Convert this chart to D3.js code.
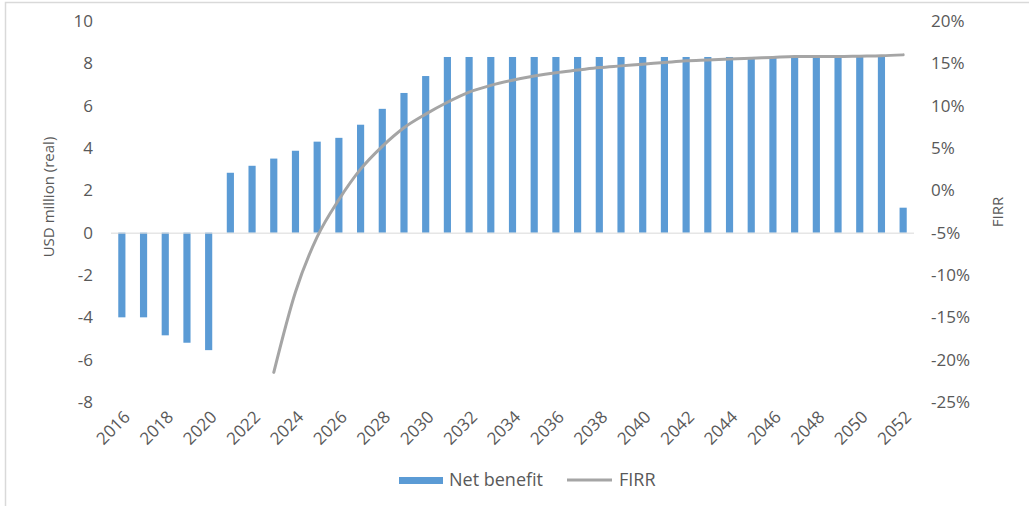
<!DOCTYPE html>
<html lang="en">
<head>
    <meta charset="UTF-8">
    <title>Net benefit and FIRR</title>
    <script src="https://d3js.org/d3.v7.min.js"></script>
    <style>
        body { margin: 0; background: #fff; overflow: hidden; font-family: "Open Sans", Arial, sans-serif; }
        .tick text { fill: #595959; font-size: 17px; font-family: "Open Sans", Arial, sans-serif; }
        .axis-title { fill: #595959; font-size: 15px; }
        .legend text { fill: #595959; font-size: 18px; }
    </style>
</head>
<body>
    <div id="chart"></div>
    <script>
        // data
        const years = d3.range(2016, 2053);
        const netBenefit = [-4.0, -4.0, -4.85, -5.2, -5.55, 2.83, 3.16, 3.5, 3.87, 4.3,
            4.48, 5.1, 5.85, 6.6, 7.4, 8.3, 8.3, 8.3, 8.3, 8.3,
            8.3, 8.3, 8.3, 8.3, 8.3, 8.3, 8.3, 8.3, 8.3, 8.3,
            8.3, 8.3, 8.3, 8.3, 8.3, 8.3, 1.18];
        const firrYears = d3.range(2023, 2053);
        const firr = [-0.215, -0.12, -0.055, -0.011, 0.025, 0.052, 0.074, 0.090, 0.104, 0.116,
            0.124, 0.130, 0.135, 0.139, 0.142, 0.145, 0.147, 0.149, 0.151, 0.153,
            0.154, 0.155, 0.156, 0.157, 0.158, 0.158, 0.158, 0.1585, 0.159, 0.160];
        const leftTicks = [-8, -6, -4, -2, 0, 2, 4, 6, 8, 10];
        const rightTicks = [-0.25, -0.2, -0.15, -0.1, -0.05, 0, 0.05, 0.1, 0.15, 0.2];
        const xTicks = years.filter(y => y % 2 === 0);

        const width = 1029, height = 506;
        const plot = { left: 111, right: 914, top: 21, bottom: 402 };

        const svg = d3.select("#chart").append("svg")
            .attr("width", width)
            .attr("height", height);

        // chart frame (left and top edges visible)
        svg.append("path")
            .attr("d", `M5.5,${height} V2.5 H${width}`)
            .attr("fill", "none")
            .attr("stroke", "#d9d9d9")
            .attr("stroke-width", 1.5);

        const x = d3.scaleBand().domain(years)
            .range([plot.left, plot.right])
            .paddingInner(0.67).paddingOuter(0.335);
        const y = d3.scaleLinear().domain([-8, 10]).range([plot.bottom, plot.top]);
        const y2 = d3.scaleLinear().domain([-0.25, 0.2]).range([plot.bottom, plot.top]);

        // plain hyphen minus like the original
        const fmtLeft = d => String(d);
        const fmtRight = d => Math.round(d * 100) + "%";

        // left axis
        svg.append("g")
            .attr("transform", `translate(${plot.left - 18},0)`)
            .call(d3.axisLeft(y).tickValues(leftTicks).tickSize(0).tickPadding(0).tickFormat(fmtLeft))
            .call(g => g.select(".domain").remove());

        // right axis
        svg.append("g")
            .attr("transform", `translate(${plot.right + 17},0)`)
            .call(d3.axisRight(y2).tickValues(rightTicks).tickSize(0).tickPadding(0).tickFormat(fmtRight))
            .call(g => g.select(".domain").remove());

        // bars
        svg.append("g").selectAll("rect")
            .data(years)
            .join("rect")
            .attr("x", d => x(d))
            .attr("width", x.bandwidth())
            .attr("y", (d, i) => y(Math.max(0, netBenefit[i])))
            .attr("height", (d, i) => Math.abs(y(netBenefit[i]) - y(0)))
            .attr("fill", "#5b9bd5");

        // zero line
        svg.append("line")
            .attr("x1", plot.left).attr("x2", plot.right)
            .attr("y1", y(0) + 0.5).attr("y2", y(0) + 0.5)
            .attr("stroke", "#d9d9d9");

        // x axis labels
        const xAxis = svg.append("g")
            .attr("transform", `translate(0,${plot.bottom + 12})`)
            .call(d3.axisBottom(x).tickValues(xTicks).tickSize(0).tickPadding(0))
            .call(g => g.select(".domain").remove());
        xAxis.selectAll(".tick text")
            .attr("text-anchor", "end")
            .attr("dy", "0.35em")
            .attr("transform", "translate(5,0) rotate(-45)");

        // FIRR line
        const line = d3.line()
            .x((d, i) => x(firrYears[i]) + x.bandwidth() / 2)
            .y(d => y2(d))
            .curve(d3.curveMonotoneX);

        svg.append("path")
            .datum(firr)
            .attr("d", line)
            .attr("fill", "none")
            .attr("stroke", "#a5a5a5")
            .attr("stroke-width", 3)
            .attr("stroke-linecap", "round");

        // axis titles
        svg.append("text")
            .attr("class", "axis-title")
            .attr("transform", `translate(49,197) rotate(-90)`)
            .attr("text-anchor", "middle")
            .attr("dy", "0.35em")
            .text("USD million (real)");

        svg.append("text")
            .attr("class", "axis-title")
            .attr("transform", `translate(998,212) rotate(-90)`)
            .attr("text-anchor", "middle")
            .attr("dy", "0.35em")
            .text("FIRR");

        // legend
        const legend = svg.append("g").attr("class", "legend");
        legend.append("rect")
            .attr("x", 399).attr("y", 477)
            .attr("width", 44).attr("height", 7)
            .attr("fill", "#5b9bd5");
        legend.append("text")
            .attr("x", 449).attr("y", 480).attr("dy", "0.35em")
            .text("Net benefit");
        legend.append("line")
            .attr("x1", 567).attr("x2", 612)
            .attr("y1", 480).attr("y2", 480)
            .attr("stroke", "#a5a5a5").attr("stroke-width", 3);
        legend.append("text")
            .attr("x", 619).attr("y", 480).attr("dy", "0.35em")
            .text("FIRR");
    </script>
</body>
</html>
